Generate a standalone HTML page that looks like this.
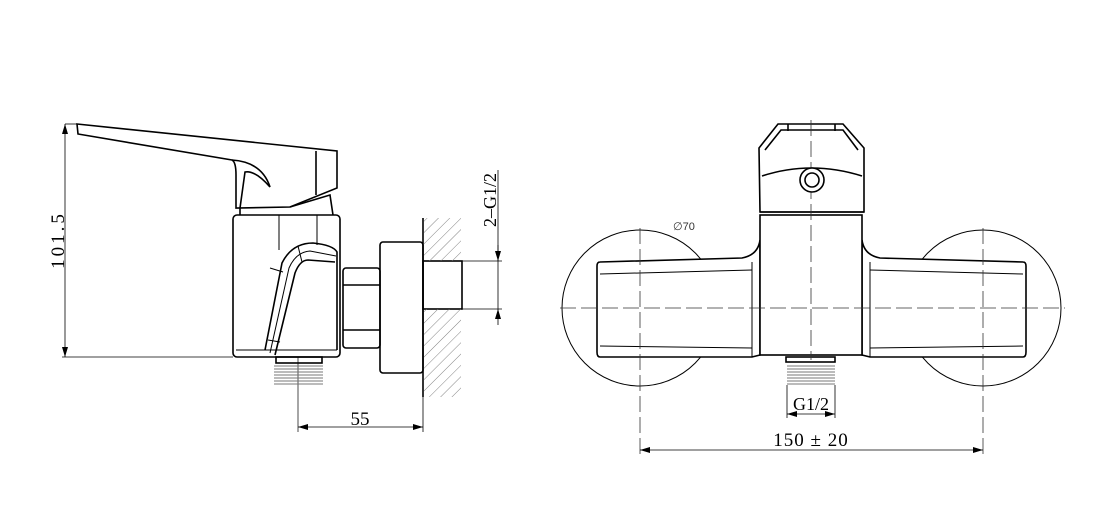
<!DOCTYPE html>
<html><head><meta charset="utf-8"><style>html,body{margin:0;padding:0;background:#fff}svg{display:block}</style></head>
<body>
<svg width="1109" height="531" viewBox="0 0 1109 531" xmlns="http://www.w3.org/2000/svg" font-family="Liberation Serif, serif">
<defs>
<marker id="a" markerWidth="10" markerHeight="6" refX="10" refY="3" orient="auto-start-reverse" markerUnits="userSpaceOnUse"><path d="M0,0 L10,3 L0,6 Z" fill="#000"/></marker>
<pattern id="h" width="8" height="8" patternUnits="userSpaceOnUse" patternTransform="rotate(45)"><line x1="0" y1="0" x2="0" y2="8" stroke="#777" stroke-width="0.9"/></pattern>
</defs>
<g fill="none" stroke="#000" stroke-width="1.6">
<!-- LEFT VIEW -->
<path d="M77,124 L337,151 L337,188 L290,207 L236,208 L236,175 Q236,162 232,160 L78,134 Z"/>
<path d="M232,160 Q262,162 270,187 Q255,170 245,172 L240,208"/>
<line x1="316" y1="151" x2="316" y2="195"/>
<path d="M240,208 L240,215 M290,207 L330,195 L333,215"/>
<rect x="233" y="215" width="107" height="142" rx="4"/>
<line x1="279" y1="215" x2="279" y2="250" stroke-width="1"/>
<line x1="317" y1="215" x2="317" y2="245" stroke-width="1"/>
<line x1="236" y1="350" x2="337" y2="350" stroke-width="1"/>
<path d="M265,350 L282,263 Q292,243 313,243 Q333,245 337,252 L337,350"/>
<path d="M275,355 L295,273 Q300,260 308,260 L335,262"/>
<path d="M270,353 L289,268 Q296,252 310,251 L336,256" stroke-width="1"/>
<path d="M283,272 L270,268 M298,246 L302,262 M268,340 L280,342" stroke-width="1"/>
<rect x="343" y="268" width="37" height="80" rx="3"/>
<line x1="343" y1="285" x2="380" y2="285"/>
<line x1="343" y1="330" x2="380" y2="330"/>
<rect x="380" y="242" width="43" height="131" rx="3"/>
<line x1="423" y1="218" x2="423" y2="397"/>
<rect x="423" y="261" width="39" height="48"/>
<rect x="276" y="357" width="46" height="6"/>
<line x1="298" y1="357" x2="298" y2="432" stroke-width="0.7"/>
</g>
<rect x="424" y="218" width="37" height="43" fill="url(#h)"/>
<rect x="424" y="309" width="37" height="88" fill="url(#h)"/>
<g stroke="#777" stroke-width="0.9">
<line x1="274" y1="366" x2="323" y2="366"/><line x1="274" y1="369" x2="323" y2="369"/><line x1="274" y1="372" x2="323" y2="372"/><line x1="274" y1="375" x2="323" y2="375"/><line x1="274" y1="378" x2="323" y2="378"/><line x1="274" y1="381" x2="323" y2="381"/><line x1="274" y1="384" x2="323" y2="384"/>
<line x1="787" y1="366" x2="835" y2="366"/><line x1="787" y1="369" x2="835" y2="369"/><line x1="787" y1="372" x2="835" y2="372"/><line x1="787" y1="375" x2="835" y2="375"/><line x1="787" y1="378" x2="835" y2="378"/><line x1="787" y1="381" x2="835" y2="381"/><line x1="787" y1="384" x2="835" y2="384"/>
</g>
<g stroke="#000" stroke-width="0.8" fill="none">
<line x1="65" y1="124" x2="77" y2="124"/>
<line x1="62" y1="357" x2="233" y2="357"/>
<line x1="65" y1="124" x2="65" y2="357" marker-start="url(#a)" marker-end="url(#a)"/>
<line x1="423" y1="397" x2="423" y2="432"/>
<line x1="298" y1="427" x2="423" y2="427" marker-start="url(#a)" marker-end="url(#a)"/>
<line x1="462" y1="261" x2="502" y2="261"/>
<line x1="462" y1="309" x2="502" y2="309"/>
<line x1="498" y1="170" x2="498" y2="309"/>
<line x1="498" y1="245" x2="498" y2="261" marker-end="url(#a)"/>
<line x1="498" y1="325" x2="498" y2="309" marker-end="url(#a)"/>
</g>
<text x="0" y="0" font-size="19" transform="translate(64,240) rotate(-90)" text-anchor="middle" letter-spacing="3">101.5</text>
<text x="360" y="425" font-size="19" text-anchor="middle">55</text>
<text x="0" y="0" font-size="18" transform="translate(496,200) rotate(-90)" text-anchor="middle">2–G1/2</text>

<!-- RIGHT VIEW -->
<g fill="none" stroke="#000" stroke-width="1">
<circle cx="640" cy="308" r="78"/>
<circle cx="983" cy="308" r="78"/>
</g>
<g fill="#fff" stroke="#000" stroke-width="1.6">
<path d="M600,262 L742,258 Q758,255 760,240 L760,355 L752,357 L600,357 Q597,357 597,352 L597,266 Q597,262 600,262 Z"/>
<path d="M1023,262 L880,258 Q864,255 862,240 L862,355 L870,357 L1023,357 Q1026,357 1026,352 L1026,266 Q1026,262 1023,262 Z"/>
<rect x="760" y="215" width="102" height="140"/>
<path d="M760,212 L759,148 L778,124 L843,124 L864,148 L864,212 Z"/>
<line x1="760" y1="212" x2="864" y2="212"/>
<path d="M762,176 Q811,160 862,176" fill="none"/>
<path d="M765,150 L781,130 L843,130 L858,150" fill="none"/>
<line x1="788" y1="124" x2="788" y2="131"/><line x1="835" y1="124" x2="835" y2="131"/>
<rect x="786" y="357" width="49" height="5"/>
</g>
<g fill="none" stroke="#000" stroke-width="1">
<line x1="600" y1="274" x2="752" y2="270"/>
<line x1="600" y1="346" x2="752" y2="348"/>
<line x1="1023" y1="274" x2="870" y2="270"/>
<line x1="1023" y1="346" x2="870" y2="348"/>
<line x1="752" y1="262" x2="752" y2="357"/>
<line x1="870" y1="262" x2="870" y2="357"/>
</g>
<g stroke="#333" stroke-width="0.8" stroke-dasharray="16,5">
<line x1="560" y1="308" x2="1065" y2="308"/>
<line x1="640" y1="228" x2="640" y2="455"/>
<line x1="983" y1="228" x2="983" y2="455"/>
<line x1="811" y1="120" x2="811" y2="360"/>
</g>
<g fill="#fff" stroke="#000" stroke-width="1.6">
<circle cx="812" cy="180" r="12"/>
<circle cx="812" cy="180" r="7"/>
</g>
<g stroke="#000" stroke-width="0.8" fill="none">
<line x1="787" y1="385" x2="787" y2="418"/>
<line x1="835" y1="385" x2="835" y2="418"/>
<line x1="787" y1="414" x2="835" y2="414" marker-start="url(#a)" marker-end="url(#a)"/>
<line x1="640" y1="450" x2="983" y2="450" marker-start="url(#a)" marker-end="url(#a)"/>
</g>
<text x="811" y="410" font-size="18" text-anchor="middle">G1/2</text>
<text x="811" y="446" font-size="19" text-anchor="middle" letter-spacing="1">150 ± 20</text>
<text x="673" y="230" font-size="11" font-family="Liberation Sans, sans-serif" fill="#333">∅70</text>
</svg>
</body></html>
